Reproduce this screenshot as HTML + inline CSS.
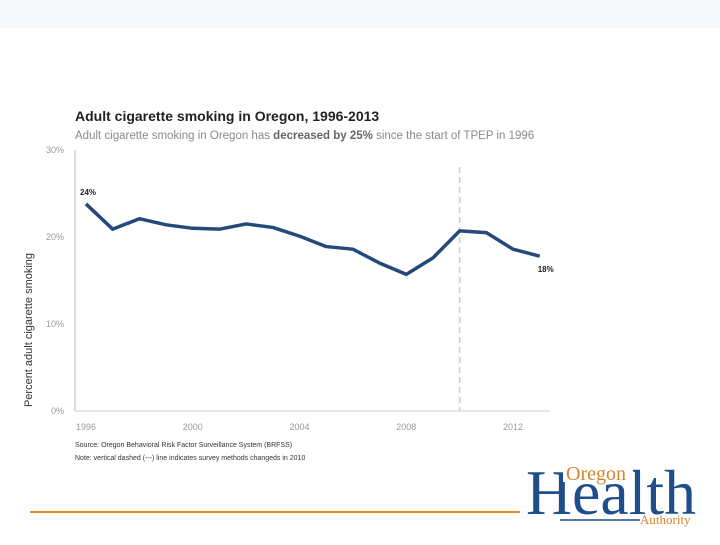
<!DOCTYPE html>
<html><head><meta charset="utf-8"><style>
body{margin:0;width:720px;height:540px;background:#fff;overflow:hidden;font-family:"Liberation Sans",sans-serif}
</style></head><body>
<svg width="720" height="540" id="svg">
<rect x="0" y="0" width="720" height="28" fill="#f7f8f9"/>
<text x="75" y="121" font-size="14" font-weight="bold" fill="#222">Adult cigarette smoking in Oregon, 1996-2013</text>
<text x="75" y="139" font-size="11.5" fill="#8a8a8a">Adult cigarette smoking in Oregon has <tspan font-weight="bold" fill="#666">decreased by 25%</tspan> since the start of TPEP in 1996</text>
<text transform="translate(32,330) rotate(-90)" text-anchor="middle" font-size="11" fill="#333">Percent adult cigarette smoking</text>
<g id="axes"></g>
<g id="marks"></g>
<text x="75" y="447" font-size="7" fill="#333">Source: Oregon Behavioral Risk Factor Surveillance System (BRFSS)</text>
<text x="75" y="460" font-size="7" fill="#333">Note: vertical dashed (---) line indicates survey methods changeds in 2010</text>
<line x1="30" y1="512" x2="520" y2="512" stroke="#e08a2e" stroke-width="2"/>
<g>
<text x="526" y="514" font-family="Liberation Serif,serif" font-size="64" fill="#1f4e8c" textLength="170" lengthAdjust="spacingAndGlyphs">Health</text>
<rect x="563" y="460" width="70" height="22" fill="#fff"/>
<text x="566" y="480" font-family="Liberation Serif,serif" font-size="20" fill="#d4862e">Oregon</text>
<line x1="560" y1="520" x2="640" y2="520" stroke="#1f4e8c" stroke-width="1.5"/>
<text x="640" y="524" font-family="Liberation Serif,serif" font-size="13" fill="#d4862e">Authority</text>
</g>
</svg>
<script>
const years=[1996,1997,1998,1999,2000,2001,2002,2003,2004,2005,2006,2007,2008,2009,2010,2011,2012,2013];
const rates=[23.8,20.9,22.1,21.4,21.0,20.9,21.5,21.1,20.1,18.9,18.6,17.0,15.7,17.6,20.7,20.5,18.6,17.8];
const yTicks=[0,10,20,30];
const xTicks=[1996,2000,2004,2008,2012];
const methodChangeYear=2010;
const NS="http://www.w3.org/2000/svg";
const X=v=>86+(v-1996)*26.69, Y=v=>411-v*8.7;
function mk(tag,attrs,parent,text){const e=document.createElementNS(NS,tag);for(const k in attrs)e.setAttribute(k,attrs[k]);if(text!=null)e.textContent=text;document.getElementById(parent).appendChild(e);return e;}
let e;
e=mk('line',{x1:75,y1:150,x2:75,y2:411,stroke:'#bbb','stroke-width':1},'axes');


e=mk('line',{x1:75,y1:411,x2:550,y2:411,stroke:'#ccc','stroke-width':1},'axes');


yTicks.forEach(t=>{e=mk('text',{x:64,y:Y(t)+3,'text-anchor':'end','font-size':9,fill:'#999'},'axes',t+'%');

});
xTicks.forEach(t=>{e=mk('text',{x:X(t),y:430,'text-anchor':'middle','font-size':9,fill:'#999'},'axes',String(t));

});
e=mk('line',{x1:X(methodChangeYear),y1:167,x2:X(methodChangeYear),y2:411,stroke:'#ccc','stroke-width':1.5,'stroke-dasharray':'6,4'},'marks');


e=mk('polyline',{points:years.map((y,i)=>X(y)+','+Y(rates[i])).join(' '),fill:'none',stroke:'#24497a','stroke-width':3.5,'stroke-linejoin':'round'},'marks');


e=mk('text',{x:X(years[0])-6,y:Y(rates[0])-9,'font-size':8,'font-weight':'bold',fill:'#222'},'marks',Math.round(rates[0])+'%');


const n=rates.length-1;
e=mk('text',{x:X(years[n])-2,y:Y(rates[n])+16,'font-size':8,'font-weight':'bold',fill:'#222'},'marks',Math.round(rates[n])+'%');


</script>
</body></html>
